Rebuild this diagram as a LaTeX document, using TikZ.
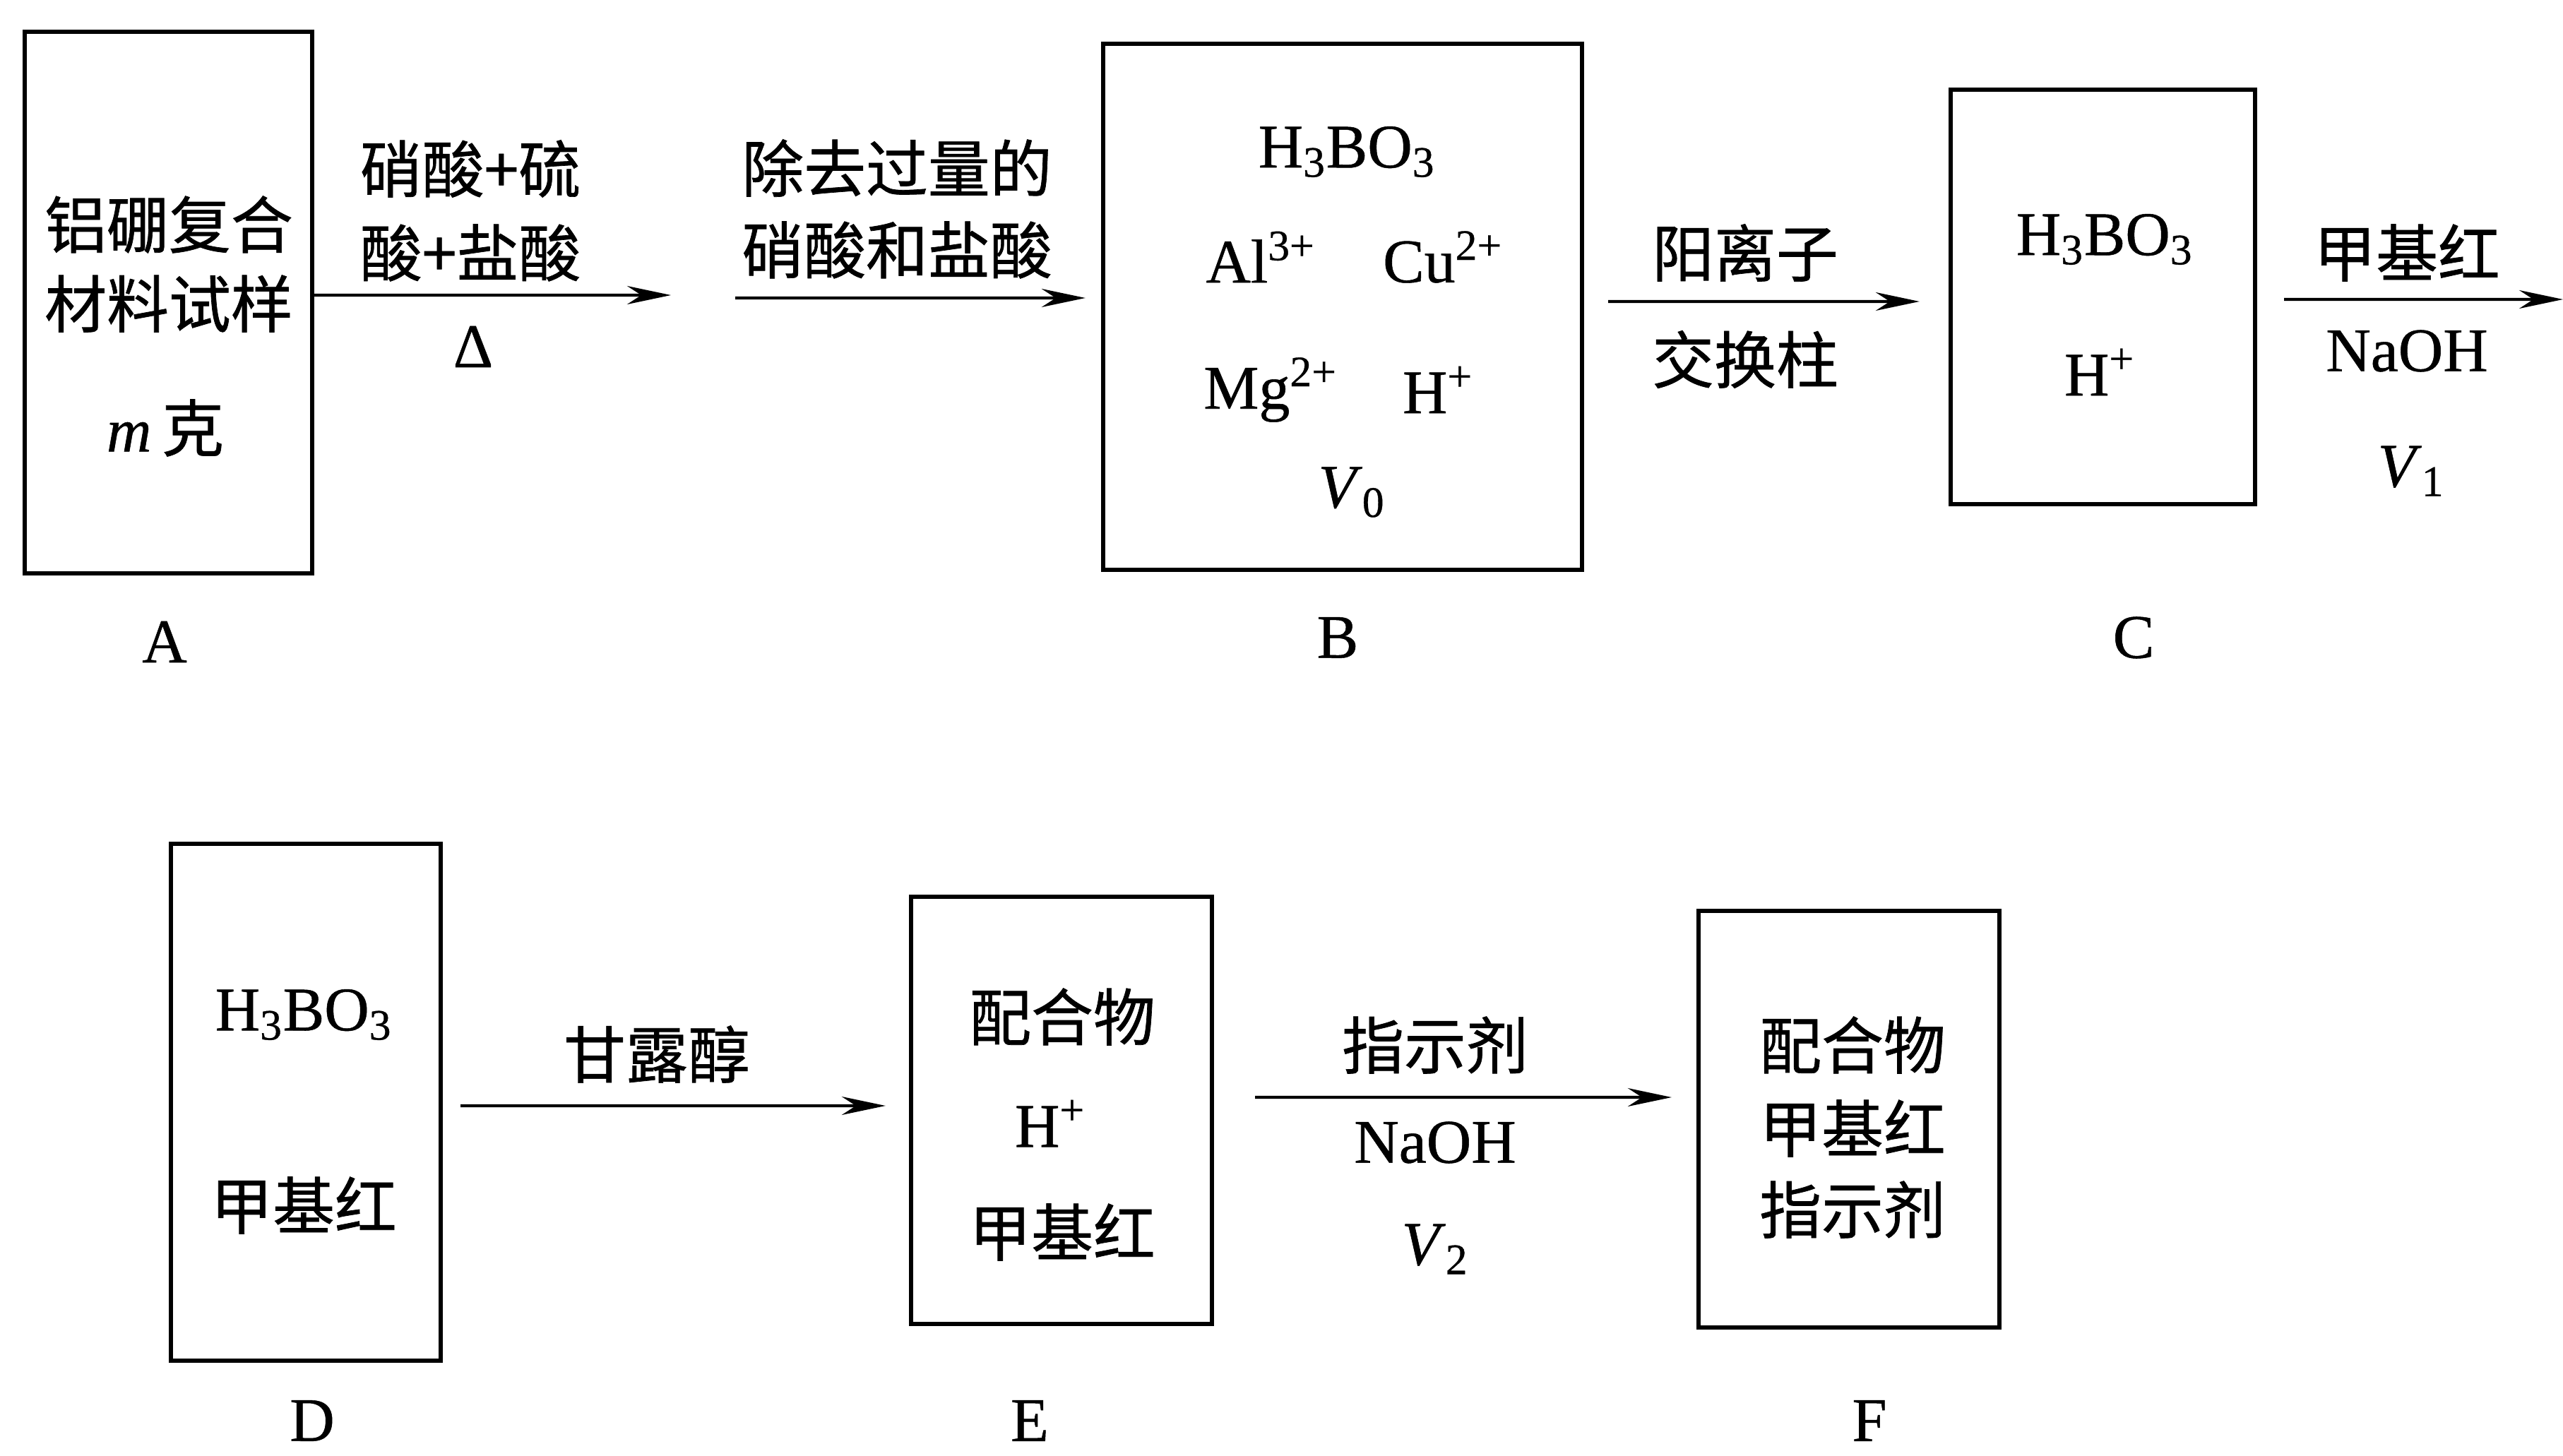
\documentclass[tikz,border=0pt]{standalone}
\usepackage{fontspec}
\setmainfont{Liberation Serif}[FakeBold=0.6]
\newfontfamily\cjk{Noto Sans CJK SC}[FakeBold=0.8]
\usetikzlibrary{arrows.meta,calc}
\begin{document}
\begin{tikzpicture}[x=1cm,y=1cm,
  box/.style={draw, line width=1.8pt, inner sep=0pt},
  arr/.style={line width=1.2pt, -{Stealth[length=0.62cm,width=0.26cm,inset=0.2cm]}},
  txt/.style={inner sep=0pt, font=\fontsize{25pt}{30pt}\selectfont},
  zh/.style={inner sep=0pt, font=\fontsize{25pt}{30pt}\selectfont\cjk}]
\fill[white] (0,0) rectangle (36.29,-20.62);
\useasboundingbox (0,0) rectangle (36.29,-20.62);

% boxes
\node[box, minimum width=4.07cm, minimum height=7.67cm] (A) at (2.385,-4.285) {};
\node[box, minimum width=6.78cm, minimum height=7.45cm] (B) at (19.01,-4.345) {};
\node[box, minimum width=4.31cm, minimum height=5.87cm] (C) at (29.775,-4.205) {};
\node[box, minimum width=3.82cm, minimum height=7.32cm] (D) at (4.33,-15.61) {};
\node[box, minimum width=4.26cm, minimum height=6.05cm] (E) at (15.03,-15.725) {};
\node[box, minimum width=4.26cm, minimum height=5.9cm] (F) at (26.18,-15.85) {};

% arrows
\coordinate (a1e) at (9.5,-4.18);
\draw[arr] ($(A.east)+(0,0.105)$) -- (a1e);
\coordinate (a2s) at (10.41,-4.22);
\draw[arr] (a2s) -- ($(B.west)+(-0.22,0.125)$);
\draw[arr] ($(B.east)+(0.34,0.075)$) -- ($(C.west)+(-0.41,-0.065)$);
\coordinate (a4e) at (36.29,-4.24);
\draw[arr] ($(C.east)+(0.38,-0.035)$) -- (a4e);
\draw[arr] ($(D.east)+(0.25,-0.05)$) -- ($(E.west)+(-0.33,0.065)$);
\draw[arr] ($(E.east)+(0.58,0.185)$) -- ($(F.west)+(-0.35,0.31)$);

% box A
\node[zh] (A1) at (2.39,-3.18) {铝硼复合};
\node[zh] (A2) at (2.39,-4.30) {材料试样};
\node[txt] (A3) at (2.34,-6.06) {\textit{m}\,{\cjk 克}};
\node[txt] (lA) at (2.33,-9.09) {A};

% arrow 1 labels
\node[zh] (t11) at (6.66,-2.39) {硝酸+硫};
\node[zh] (t12) at (6.66,-3.58) {酸+盐酸};
\node[txt] (t13) at (6.70,-4.91) {Δ};

% arrow 2 labels
\node[zh] (t21) at (12.70,-2.38) {除去过量的};
\node[zh] (t22) at (12.70,-3.54) {硝酸和盐酸};

% box B
\node[txt] (B1) at (19.07,-2.15) {H\textsubscript{3}BO\textsubscript{3}};
\node[txt] (B2) at (17.85,-3.64) {Al\textsuperscript{3+}};
\node[txt] (B3) at (20.43,-3.64) {Cu\textsuperscript{2+}};
\node[txt] (B4) at (17.99,-5.52) {Mg\textsuperscript{2+}};
\node[txt] (B5) at (20.36,-5.52) {H\textsuperscript{+}};
\node[txt] (B6) at (19.14,-6.97) {\textit{V}\textsubscript{0}};
\node[txt] (lB) at (18.94,-9.03) {B};

% arrow B->C labels
\node[zh] (t31) at (24.71,-3.58) {阳离子};
\node[zh] (t32) at (24.71,-5.09) {交换柱};

% box C
\node[txt] (C1) at (29.80,-3.39) {H\textsubscript{3}BO\textsubscript{3}};
\node[txt] (C2) at (29.73,-5.27) {H\textsuperscript{+}};
\node[txt] (lC) at (30.21,-9.03) {C};

% arrow C-> labels
\node[zh] (t41) at (34.08,-3.58) {甲基红};
\node[txt] (t42) at (34.08,-4.97) {NaOH};
\node[txt] (t43) at (34.14,-6.67) {\textit{V}\textsubscript{1}};

% box D
\node[txt] (D1) at (4.30,-14.37) {H\textsubscript{3}BO\textsubscript{3}};
\node[zh] (D2) at (4.30,-17.07) {甲基红};
\node[txt] (lD) at (4.42,-20.12) {D};

% arrow D->E label
\node[zh] (t51) at (9.30,-14.93) {甘露醇};

% box E
\node[zh] (E1) at (15.04,-14.40) {配合物};
\node[txt] (E2) at (14.87,-15.91) {H\textsuperscript{+}};
\node[zh] (E3) at (15.04,-17.45) {甲基红};
\node[txt] (lE) at (14.58,-20.12) {E};

% arrow E->F labels
\node[zh] (t61) at (20.32,-14.80) {指示剂};
\node[txt] (t62) at (20.32,-16.18) {NaOH};
\node[txt] (t63) at (20.32,-17.69) {\textit{V}\textsubscript{2}};

% box F
\node[zh] (F1) at (26.23,-14.80) {配合物};
\node[zh] (F2) at (26.23,-15.98) {甲基红};
\node[zh] (F3) at (26.23,-17.13) {指示剂};
\node[txt] (lF) at (26.47,-20.12) {F};
\end{tikzpicture}
\end{document}
